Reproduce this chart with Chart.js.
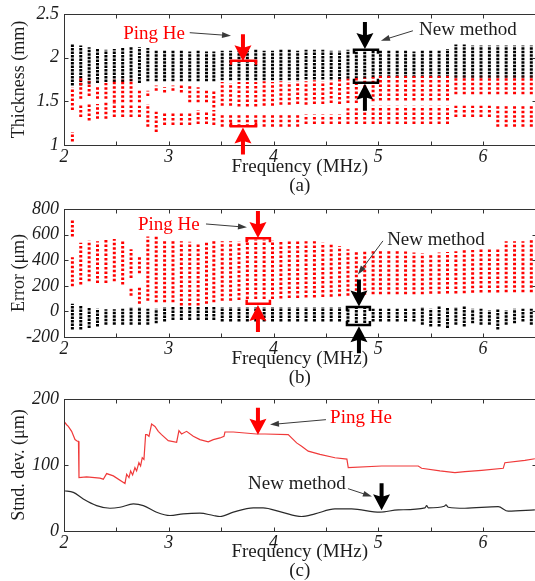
<!DOCTYPE html>
<html>
<head>
<meta charset="utf-8">
<script src="https://cdn.jsdelivr.net/npm/chart.js@4.4.1/dist/chart.umd.min.js"></script>
<style>
html,body{margin:0;padding:0;background:#fff;overflow:hidden;width:535px;height:581px}
canvas{position:absolute;left:0}
</style>
</head>
<body>
<canvas id="thick" width="540" height="196" style="top:0px"></canvas>
<canvas id="err" width="540" height="193" style="top:195px"></canvas>
<canvas id="std" width="540" height="196" style="top:385px"></canvas>
<script>
// frequency of every measurement column (MHz)
var colFreq = [2.08,2.16,2.24,2.32,2.40,2.48,2.56,2.64,2.72,2.80,
               2.88,2.96,3.04,3.12,3.20,3.28,3.36,3.43,3.51,3.59,
               3.67,3.75,3.83,3.91,3.99,4.07,4.15,4.23,4.31,4.39,
               4.47,4.55,4.63,4.71,4.79,4.87,4.95,5.02,5.10,5.18,
               5.26,5.34,5.42,5.50,5.58,5.66,5.74,5.82,5.90,5.98,
               6.06,6.14,6.22,6.30,6.38,6.46]

// (a) thickness (mm), new method: spread of each column
var thickBlackHi = [2.15,2.14,2.12,2.10,2.09,2.10,2.11,2.12,2.12,2.11,
                    2.09,2.08,2.08,2.08,2.07,2.08,2.07,2.07,2.08,2.08,
                    2.08,2.08,2.09,2.08,2.08,2.09,2.09,2.08,2.09,2.09,
                    2.09,2.08,2.08,2.09,2.09,2.08,2.08,2.08,2.08,2.08,
                    2.08,2.07,2.08,2.09,2.09,2.10,2.15,2.15,2.14,2.14,
                    2.14,2.14,2.14,2.14,2.14,2.14]
var thickBlackLo = [1.68,1.68,1.70,1.71,1.72,1.72,1.72,1.73,1.71,1.73,
                    1.73,1.73,1.73,1.73,1.73,1.73,1.73,1.73,1.74,1.74,
                    1.74,1.74,1.74,1.74,1.74,1.74,1.74,1.74,1.75,1.75,
                    1.75,1.75,1.75,1.76,1.76,1.76,1.77,1.77,1.77,1.77,
                    1.77,1.77,1.77,1.77,1.77,1.77,1.77,1.77,1.77,1.77,
                    1.77,1.77,1.77,1.77,1.77,1.77]
// (a) thickness (mm), Ping He: upper and lower clusters
var thickRedUpHi = [1.66,1.77,1.73,1.68,1.71,1.75,1.75,1.75,1.64,1.62,
                    1.68,1.66,1.68,1.68,1.68,1.66,1.64,1.62,1.72,1.71,
                    1.72,1.72,1.72,1.73,1.72,1.73,1.72,1.73,1.73,1.74,
                    1.73,1.74,1.75,1.76,1.77,1.77,1.78,1.79,1.79,1.79,
                    1.79,1.79,1.79,1.79,1.79,1.79,1.79,1.79,1.79,1.79,
                    1.79,1.79,1.79,1.79,1.79,1.79]
var thickRedUpLo = [1.40,1.53,1.56,1.53,1.53,1.49,1.49,1.49,1.49,1.56,
                    1.62,1.60,1.62,1.60,1.49,1.49,1.49,1.43,1.45,1.45,
                    1.44,1.44,1.44,1.45,1.45,1.46,1.46,1.47,1.46,1.47,
                    1.47,1.48,1.47,1.48,1.48,1.50,1.50,1.51,1.51,1.51,
                    1.51,1.51,1.51,1.51,1.51,1.51,1.58,1.58,1.58,1.58,
                    1.58,1.58,1.58,1.58,1.58,1.58]
var thickRedLowHi = [1.15,1.47,1.47,1.47,1.49,1.49,1.47,1.47,1.45,1.47,
                     1.38,1.38,1.38,1.38,1.38,1.40,1.38,1.40,1.36,1.36,
                     1.36,1.36,1.36,1.36,1.36,1.36,1.36,1.36,1.35,1.35,
                     1.35,1.35,1.35,1.42,1.42,1.42,1.45,1.45,1.45,1.45,
                     1.45,1.45,1.45,1.45,1.45,1.45,1.45,1.45,1.45,1.45,
                     1.45,1.45,1.45,1.45,1.45,1.45]
var thickRedLowLo = [1.04,1.32,1.28,1.30,1.30,1.32,1.32,1.32,1.32,1.21,
                     1.15,1.23,1.23,1.23,1.23,1.24,1.24,1.23,1.21,1.21,
                     1.21,1.21,1.21,1.21,1.21,1.21,1.21,1.21,1.24,1.24,
                     1.24,1.24,1.24,1.24,1.24,1.24,1.24,1.24,1.24,1.24,
                     1.24,1.24,1.24,1.24,1.24,1.24,1.32,1.32,1.32,1.32,
                     1.32,1.21,1.21,1.21,1.21,1.21]

// (b) error (um)
var errBlackHi = [59,46,34,21,16,16,21,34,34,21,
                  21,34,34,34,34,34,34,34,34,34,
                  34,34,34,34,34,34,34,34,34,34,
                  34,34,34,34,34,34,21,21,21,21,
                  21,21,34,21,46,34,34,46,21,21,
                  9,21,9,21,21,21]
var errBlackLo = [-142,-142,-129,-117,-104,-104,-104,-104,-104,-104,
                  -92,-79,-67,-67,-67,-67,-67,-67,-79,-79,
                  -79,-79,-79,-79,-79,-79,-79,-79,-79,-79,
                  -79,-79,-79,-85,-90,-90,-79,-79,-79,-79,
                  -79,-79,-104,-117,-117,-129,-104,-117,-92,-104,
                  -104,-142,-104,-92,-79,-104]
var errRedHi = [423,536,554,549,574,566,561,486,423,586,
                599,556,549,549,544,536,536,549,549,549,
                549,561,561,561,556,556,553,553,549,549,
                536,526,511,486,476,466,486,480,480,473,
                468,460,455,455,460,465,470,478,480,486,
                490,500,549,549,549,556]
var errRedLo = [197,210,235,222,222,235,210,260,298,84,
                72,72,72,46,46,46,59,72,84,84,
                90,97,97,97,97,100,105,105,109,109,
                112,115,118,122,126,130,134,134,134,134,
                134,134,134,137,137,140,140,142,145,147,
                147,147,150,150,150,150]
// split columns of Ping He with a second cluster
var errRedExtraCol = [0, 7, 8]
var errRedExtraHi = [712, 185, 185]
var errRedExtraLo = [586, 122, 59]

// (c) standard deviation (um)
var stdRedFreq = [2.000,2.025,2.041,2.073,2.105,2.127,2.138,2.143,2.216,2.343,
                  2.375,2.407,2.471,2.582,2.598,2.620,2.636,2.655,2.677,2.693,
                  2.715,2.731,2.747,2.763,2.779,2.792,2.811,2.836,2.868,2.900,
                  2.931,2.995,3.075,3.097,3.122,3.170,3.234,3.297,3.377,3.425,
                  3.489,3.527,3.536,3.616,3.838,3.918,4.140,4.220,4.268,4.331,
                  4.443,4.586,4.700,4.713,5.031,5.381,5.413,5.588,5.731,5.826,
                  5.986,6.192,6.208,6.399,6.494]
var stdRed = [166,161,158.5,151,138.5,136,136,81,82,80,
              78.5,87,83.5,72,86,81,91,85,96,91,
              103.5,98.5,111,108.5,146,146,143.5,162,158.5,151,
              146,137,134.5,152,147,151,143.5,138.5,135,138.5,
              141,143.5,150,150,147,147,146,133.5,128.5,121,
              116,111,109,96,98.5,98.5,95,91,88.5,90,
              92,95,103.5,107,109.5]
var stdBlackFreq = [2.000,2.089,2.184,2.311,2.439,2.534,2.662,2.757,2.884,3.011,
                    3.138,3.297,3.425,3.489,3.616,3.807,3.900,4.077,4.268,4.395,
                    4.586,4.745,5.015,5.190,5.445,5.461,5.477,5.630,5.645,5.668,
                    5.826,6.144,6.239,6.494]
var stdBlack = [61,58.5,48.5,38.5,34.5,36,41,38.5,28.5,23.5,
                26,27,23.5,22,28.5,35,35,28.5,22,26,
                33.5,33.5,28.5,32,35,38.5,35,37.5,39.5,36,
                34.5,37,30,32]

var RED = '#ff0000', INK = '#1c1c1c', GREY = '#3a3a3a'
var SERIF = "'Liberation Serif', 'Times New Roman', serif"
Chart.defaults.font.family = SERIF
Chart.defaults.color = INK

// each column becomes a short vertical run, broken from the next one by a null
function columns(idx, lo, hi) {
  var pts = []
  for (var i = 0; i < lo.length; i++) {
    var f = colFreq[idx ? idx[i] : i]
    pts.push({x: f, y: lo[i]}, {x: f, y: hi[i]}, {x: f, y: null})
  }
  return pts
}
function curve(fs, vs) {
  return fs.map(function (f, i) { return {x: f, y: vs[i]} })
}
function dots(data, color, dash) {
  return {data: data, borderColor: color, borderWidth: 3, borderDash: dash,
          spanGaps: false, pointRadius: 0, borderCapStyle: 'butt', tension: 0}
}

function drawFrame(c) {
  var ctx = c.ctx, a = c.chartArea, x = c.scales.x, y = c.scales.y
  var L = Math.round(a.left) + .5, R = Math.round(a.right) + .5
  var T = Math.round(a.top) + .5, B = Math.round(a.bottom) + .5
  ctx.save()
  ctx.strokeStyle = '#333'
  ctx.lineWidth = 1
  ctx.strokeRect(L, T, R - L, B - T)
  ctx.beginPath()
  x.ticks.forEach(function (t) {
    var p = Math.round(x.getPixelForValue(t.value)) + .5
    ctx.moveTo(p, T); ctx.lineTo(p, T + 4)
    ctx.moveTo(p, B); ctx.lineTo(p, B - 4)
  })
  y.ticks.forEach(function (t) {
    var p = Math.round(y.getPixelForValue(t.value)) + .5
    ctx.moveTo(L, p); ctx.lineTo(L + 4, p)
    ctx.moveTo(R, p); ctx.lineTo(R - 4, p)
  })
  ctx.stroke()
  ctx.restore()
}

function drawMarks(c, items) {
  var ctx = c.ctx
  var X = function (v) { return c.scales.x.getPixelForValue(v) }
  var Y = function (v) { return c.scales.y.getPixelForValue(v) }
  ctx.save()
  items.forEach(function (m) {
    var col = m.color || INK
    ctx.fillStyle = col
    ctx.strokeStyle = col
    if (m.type == 'text') {
      ctx.font = '19px ' + SERIF
      ctx.textAlign = 'center'
      ctx.textBaseline = 'middle'
      ctx.fillText(m.text, X(m.x), Y(m.y))
    } else if (m.type == 'pointer') {
      var x0 = X(m.x0), y0 = Y(m.y0), x1 = X(m.x1), y1 = Y(m.y1)
      var ang = Math.atan2(y1 - y0, x1 - x0), cs = Math.cos(ang), sn = Math.sin(ang)
      ctx.fillStyle = GREY; ctx.strokeStyle = GREY; ctx.lineWidth = 1
      ctx.beginPath(); ctx.moveTo(x0, y0); ctx.lineTo(x1 - 7 * cs, y1 - 7 * sn); ctx.stroke()
      ctx.beginPath()
      ctx.moveTo(x1, y1)
      ctx.lineTo(x1 - 9 * cs - 3 * sn, y1 - 9 * sn + 3 * cs)
      ctx.lineTo(x1 - 9 * cs + 3 * sn, y1 - 9 * sn - 3 * cs)
      ctx.closePath(); ctx.fill()
    } else if (m.type == 'arrow') {
      // thick arrow, dir 1 points down, -1 points up
      var ax = X(m.x), ay = Y(m.y), d = m.dir, hl = 16, hw = 8.5, sl = 11, sw = 2
      ctx.beginPath()
      ctx.moveTo(ax, ay)
      ctx.lineTo(ax - hw, ay - d * hl)
      ctx.lineTo(ax - sw, ay - d * (hl - 2))
      ctx.lineTo(ax - sw, ay - d * (hl + sl))
      ctx.lineTo(ax + sw, ay - d * (hl + sl))
      ctx.lineTo(ax + sw, ay - d * (hl - 2))
      ctx.lineTo(ax + hw, ay - d * hl)
      ctx.closePath(); ctx.fill()
    } else if (m.type == 'bracket') {
      var bx0 = X(m.x0), bx1 = X(m.x1), by = Y(m.y)
      ctx.lineWidth = 2.5
      ctx.beginPath()
      ctx.moveTo(bx0 + 1, by + m.dir * 4); ctx.lineTo(bx0 + 1, by)
      ctx.lineTo(bx1 - 1, by); ctx.lineTo(bx1 - 1, by + m.dir * 4)
      ctx.stroke()
    }
  })
  ctx.restore()
}

function panel(id, o) {
  var el = document.getElementById(id)
  return new Chart(el, {
    type: 'line',
    data: {datasets: o.datasets},
    options: {
      animation: false, responsive: false, events: [],
      layout: {padding: {left: 0, right: 4.5, top: o.top, bottom: 0}},
      plugins: {legend: {display: false}, tooltip: {enabled: false}},
      scales: {
        x: {
          type: 'linear', min: 2, max: 6.5,
          grid: {display: false, drawTicks: false}, border: {display: false},
          ticks: {stepSize: 0.5, autoSkip: false, maxRotation: 0, padding: 3,
                  font: {size: 18, style: 'italic', lineHeight: 1},
                  callback: function (v) { return v % 1 === 0 ? String(v) : '' }},
          title: {display: true, text: ['Frequency (MHz)', o.tag],
                  font: {size: 19, lineHeight: 1}, padding: {top: 0, bottom: 0.5}},
          afterFit: function (s) { s.height = el.height - o.bottom }
        },
        y: {
          min: o.min, max: o.max,
          grid: {display: false, drawTicks: false}, border: {display: false},
          ticks: {stepSize: o.step, padding: 5,
                  font: {size: 18, style: 'italic', lineHeight: 1},
                  callback: function (v) { return String(v) }},
          title: {display: true, text: o.title, font: {size: 18, lineHeight: 1}, padding: {top: 10}},
          afterFit: function (s) { s.width = 64 }
        }
      }
    },
    plugins: [{id: 'frame', afterDraw: function (c) { drawFrame(c); drawMarks(c, o.marks) }}]
  })
}

var BLACK_DASH = [2.5, 1], RED_DASH = [2.5, 2]

panel('thick', {
  top: 12, bottom: 145, min: 1, max: 2.5, step: 0.5, tag: '(a)', title: 'Thickness (mm)',
  datasets: [
    dots(columns(null, thickRedUpLo, thickRedUpHi), RED, RED_DASH),
    dots(columns(null, thickRedLowLo, thickRedLowHi), RED, RED_DASH),
    dots(columns(null, thickBlackLo, thickBlackHi), '#000', BLACK_DASH)
  ],
  marks: [
    {type: 'text', text: 'Ping He', x: 2.86, y: 2.269, color: RED},
    {type: 'pointer', x0: 3.20, y0: 2.286, x1: 3.594, y1: 2.252},
    {type: 'bracket', x0: 3.584, x1: 3.842, y: 1.964, dir: 1, color: RED},
    {type: 'arrow', x: 3.708, y: 1.96, dir: 1, color: RED},
    {type: 'bracket', x0: 3.584, x1: 3.842, y: 1.214, dir: -1, color: RED},
    {type: 'arrow', x: 3.708, y: 1.20, dir: -1, color: RED},
    {type: 'text', text: 'New method', x: 5.855, y: 2.314},
    {type: 'pointer', x0: 5.33, y0: 2.308, x1: 5.025, y1: 2.195},
    {type: 'bracket', x0: 4.758, x1: 5.006, y: 2.091, dir: 1, color: '#000'},
    {type: 'arrow', x: 4.872, y: 2.10, dir: 1, color: '#000'},
    {type: 'bracket', x0: 4.758, x1: 5.006, y: 1.714, dir: -1, color: '#000'},
    {type: 'arrow', x: 4.872, y: 1.70, dir: -1, color: '#000'}
  ]
})

panel('err', {
  top: 9, bottom: 142, min: -200, max: 800, step: 200, tag: '(b)', title: 'Error (\u03bcm)',
  datasets: [
    dots(columns(null, errRedLo, errRedHi), RED, RED_DASH),
    dots(columns(errRedExtraCol, errRedExtraLo, errRedExtraHi), RED, RED_DASH),
    dots(columns(null, errBlackLo, errBlackHi), '#000', BLACK_DASH)
  ],
  marks: [
    {type: 'text', text: 'Ping He', x: 3.0, y: 676, color: RED},
    {type: 'pointer', x0: 3.355, y0: 683, x1: 3.746, y1: 657},
    {type: 'bracket', x0: 3.734, x1: 3.975, y: 571, dir: 1, color: RED},
    {type: 'arrow', x: 3.851, y: 574, dir: 1, color: RED},
    {type: 'bracket', x0: 3.734, x1: 3.975, y: 59, dir: -1, color: RED},
    {type: 'arrow', x: 3.851, y: 50, dir: -1, color: RED},
    {type: 'text', text: 'New method', x: 5.55, y: 559},
    {type: 'pointer', x0: 5.044, y0: 551, x1: 4.805, y1: 288},
    {type: 'bracket', x0: 4.691, x1: 4.929, y: 35, dir: 1, color: '#000'},
    {type: 'arrow', x: 4.815, y: 39, dir: 1, color: '#000'},
    {type: 'bracket', x0: 4.691, x1: 4.929, y: -107, dir: -1, color: '#000'},
    {type: 'arrow', x: 4.815, y: -116, dir: -1, color: '#000'}
  ]
})

panel('std', {
  top: 12, bottom: 146, min: 0, max: 200, step: 100, tag: '(c)', title: 'Stnd. dev. (\u03bcm)',
  datasets: [
    {data: curve(stdRedFreq, stdRed), borderColor: '#f03a3a', borderWidth: 1.2, pointRadius: 0, tension: 0},
    {data: curve(stdBlackFreq, stdBlack), borderColor: '#2a2a2a', borderWidth: 1.2, pointRadius: 0,
     cubicInterpolationMode: 'monotone'}
  ],
  marks: [
    {type: 'arrow', x: 3.851, y: 146, dir: 1, color: RED},
    {type: 'text', text: 'Ping He', x: 4.834, y: 171, color: RED},
    {type: 'pointer', x0: 4.50, y0: 168.7, x1: 3.966, y1: 161.2},
    {type: 'text', text: 'New method', x: 4.223, y: 71.6},
    {type: 'pointer', x0: 4.71, y0: 64.2, x1: 4.939, y1: 52.2},
    {type: 'arrow', x: 5.031, y: 31.3, dir: 1, color: '#000'}
  ]
})
</script>
</body>
</html>
